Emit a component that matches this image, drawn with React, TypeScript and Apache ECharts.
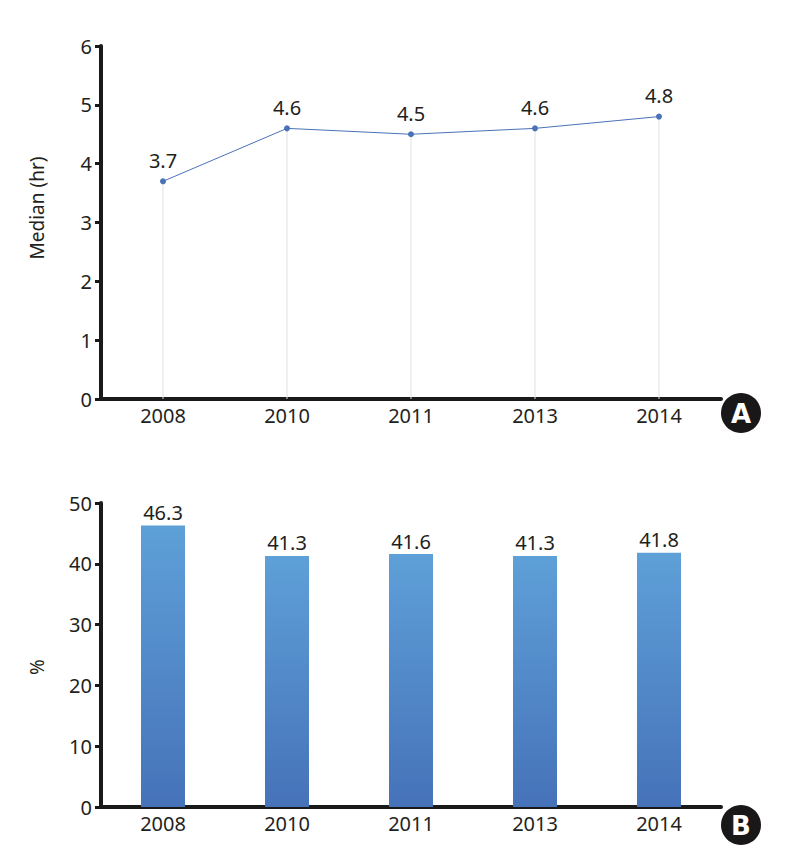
import React, { useEffect, useRef } from "react";
import * as echarts from "echarts";

const years = ["2008", "2010", "2011", "2013", "2014"];
const medianHours = [3.7, 4.6, 4.5, 4.6, 4.8];
const percents = [46.3, 41.3, 41.6, 41.3, 41.8];
const topAxisName = "Median (hr)";
const bottomAxisName = "%";

const FONT = "'Noto Sans', sans-serif";
const TXT = "#231f20";

export default function App() {
  const ref = useRef<HTMLDivElement>(null);
  useEffect(() => {
    document.body.style.margin = "0";
    const chart = echarts.init(ref.current!, null, { renderer: "svg" });
    const axisLine = { show: true, lineStyle: { color: "#1a1a1a", width: 4 } };
    const yAxisCommon = {
      type: "value" as const,
      axisLine,
      axisTick: { show: true, length: 6, lineStyle: { color: "#1a1a1a", width: 3 } },
      splitLine: { show: false },
      axisLabel: { color: TXT, fontSize: 20, fontFamily: FONT, margin: 9 },
    };
    const xAxisCommon = {
      type: "category" as const,
      data: years,
      axisLine,
      axisTick: { show: false },
      axisLabel: { color: TXT, fontSize: 20, fontFamily: FONT, margin: 6 },
    };
    const nameStyle = {
      fill: TXT,
      font: `19px ${FONT}`,
      align: "center",
      verticalAlign: "middle",
    };
    chart.setOption({
      animation: false,
      grid: [
        { left: 101, right: 70, top: 46, height: 353 },
        { left: 101, right: 70, top: 503, height: 304 },
      ],
      xAxis: [
        { ...xAxisCommon, gridIndex: 0 },
        { ...xAxisCommon, gridIndex: 1 },
      ],
      yAxis: [
        { ...yAxisCommon, gridIndex: 0, min: 0, max: 6, interval: 1 },
        { ...yAxisCommon, gridIndex: 1, min: 0, max: 50, interval: 10 },
      ],
      series: [
        {
          type: "bar",
          xAxisIndex: 0,
          yAxisIndex: 0,
          data: medianHours,
          barWidth: 1,
          itemStyle: { color: "#e2e2e2" },
          silent: true,
          z: 1,
        },
        {
          type: "line",
          xAxisIndex: 0,
          yAxisIndex: 0,
          data: medianHours,
          symbol: "circle",
          symbolSize: 6,
          lineStyle: { color: "#4a72b8", width: 1 },
          itemStyle: { color: "#4a72b8" },
          label: {
            show: true,
            position: "top",
            distance: 8,
            color: TXT,
            fontSize: 20,
            fontFamily: FONT,
            formatter: (p: any) => p.value.toFixed(1),
          },
          z: 3,
        },
        {
          type: "bar",
          xAxisIndex: 1,
          yAxisIndex: 1,
          data: percents,
          barWidth: 44,
          itemStyle: {
            color: new echarts.graphic.LinearGradient(0, 0, 0, 1, [
              { offset: 0, color: "#5ea0d8" },
              { offset: 1, color: "#4672b9" },
            ]),
          },
          label: {
            show: true,
            position: "top",
            distance: 3,
            color: TXT,
            fontSize: 20,
            fontFamily: FONT,
            formatter: (p: any) => p.value.toFixed(1),
          },
        },
      ],
      graphic: [
        { type: "text", x: 37, y: 208, rotation: Math.PI / 2, style: { ...nameStyle, text: topAxisName } },
        { type: "text", x: 37, y: 667, rotation: Math.PI / 2, style: { ...nameStyle, text: bottomAxisName } },
        { type: "circle", shape: { cx: 741, cy: 413, r: 20 }, style: { fill: "#1a1718" } },
        {
          type: "text",
          x: 741,
          y: 414,
          style: {
            text: "A",
            fill: "#ffffff",
            font: "bold 26px 'DejaVu Sans', sans-serif",
            align: "center",
            verticalAlign: "middle",
          },
        },
        { type: "circle", shape: { cx: 741, cy: 825, r: 20 }, style: { fill: "#1a1718" } },
        {
          type: "text",
          x: 741,
          y: 826,
          style: {
            text: "B",
            fill: "#ffffff",
            font: "bold 26px 'DejaVu Sans', sans-serif",
            align: "center",
            verticalAlign: "middle",
          },
        },
      ],
    });
    return () => chart.dispose();
  }, []);
  return (
    <div
      ref={ref}
      style={{ position: "absolute", left: 0, top: 0, width: 791, height: 862, background: "#ffffff" }}
    />
  );
}
